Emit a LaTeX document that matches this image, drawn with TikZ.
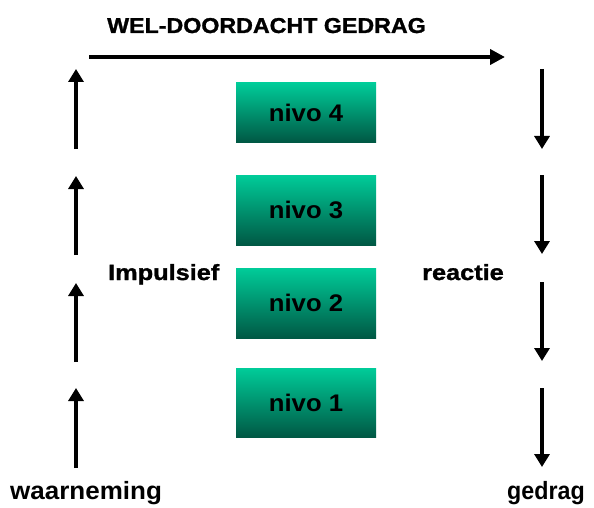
\documentclass[tikz,border=0pt]{standalone}
\usepackage{fontspec}
\usepackage{graphicx}
\setmainfont{Liberation Sans}
\newfontfamily\heavyfont[FakeBold=1.2]{Liberation Sans Bold}
\usetikzlibrary{arrows.meta}
\definecolor{levtop}{RGB}{0,204,153}
\definecolor{levbot}{RGB}{0,88,68}
\newcommand{\widetext}[2]{\scalebox{#1}[1]{#2}}
\begin{document}
\begin{tikzpicture}[x=1pt,y=-1pt,
  flow/.style={line width=4.2pt,-{Triangle[length=13pt,width=15pt]}},
  level/.style={minimum width=140pt,inner sep=0pt,
    top color=levtop,bottom color=levbot,
    font=\bfseries\fontsize{24}{28}\selectfont},
  lbl/.style={inner sep=0pt,font=\heavyfont\fontsize{22}{26}\selectfont},
  foot/.style={inner sep=0pt,anchor=base west,font=\bfseries\fontsize{25}{29}\selectfont}]
\useasboundingbox (0,0) rectangle (594,508);

% levels
\node[level,minimum height=59pt] (n4) at (306,112.5) {\widetext{1.07}{nivo 4}};
\node[level,minimum height=70pt] (n3) at (306,210) {\widetext{1.07}{nivo 3}};
\node[level,minimum height=70pt] (n2) at (306,303) {\widetext{1.07}{nivo 2}};
\node[level,minimum height=69pt] (n1) at (306,402.5) {\widetext{1.07}{nivo 1}};

% labels
\node[lbl,anchor=base west,font=\heavyfont\fontsize{21.5}{25}\selectfont] (title) at (107,33) {\widetext{1.08}{WEL-DOORDACHT GEDRAG}};
\node[lbl,anchor=base west] (imp) at (108,280) {\widetext{1.15}{Impulsief}};
\node[lbl,anchor=base west] (rea) at (422,280) {\widetext{1.15}{reactie}};
\node[foot] (waar) at (10,499) {\widetext{1.04}{waarneming}};
\node[foot] (ged) at (507,499) {\widetext{0.93}{gedrag}};

% arrow end points
\coordinate (ts) at (89,57);   \coordinate (te) at (505,57);
\coordinate (l1s) at (76,149); \coordinate (l1e) at (76,69);
\coordinate (l2s) at (76,255); \coordinate (l2e) at (76,176);
\coordinate (l3s) at (76,362); \coordinate (l3e) at (76,283);
\coordinate (l4s) at (76,468); \coordinate (l4e) at (76,388);
\coordinate (r1s) at (542,69);  \coordinate (r1e) at (542,149);
\coordinate (r2s) at (542,175); \coordinate (r2e) at (542,254);
\coordinate (r3s) at (542,282); \coordinate (r3e) at (542,361);
\coordinate (r4s) at (542,388); \coordinate (r4e) at (542,467);

\draw[flow,-{Triangle[length=15pt,width=15pt]}] (ts) -- (te);
\foreach \a in {l1,l2,l3,l4,r1,r2,r3,r4}
  \draw[flow] (\a s) -- (\a e);
\end{tikzpicture}
\end{document}
